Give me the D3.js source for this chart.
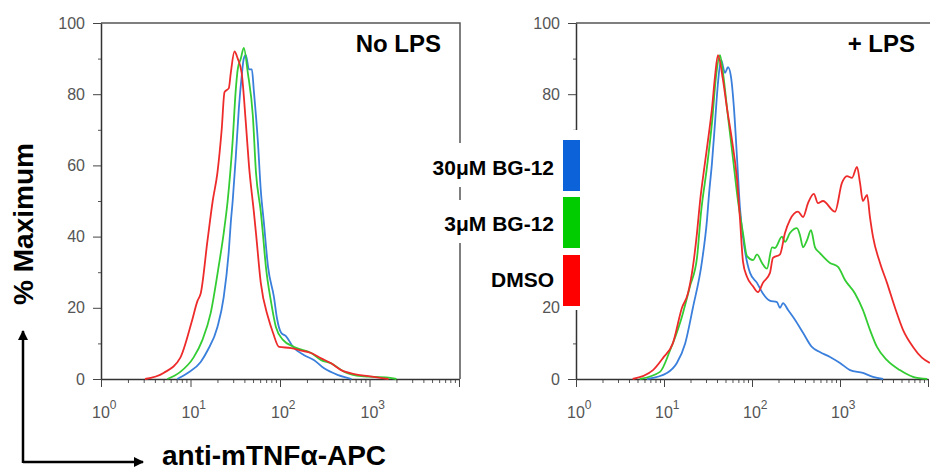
<!DOCTYPE html>
<html>
<head>
<meta charset="utf-8">
<script src="https://cdn.jsdelivr.net/npm/d3@7"></script>
<style>
  body { margin: 0; background: #fff; }
  svg { display: block; font-family: Arial, "Liberation Sans", sans-serif; }
</style>
</head>
<body>
<div class="chart"></div>
<script>
// flow histograms, % of max vs anti-mTNFa-APC intensity (log)
var panelTitles = ['No LPS', '+ LPS'];
var legendNames = ['30μM BG-12', '3μM BG-12', 'DMSO'];
var yTicks = [0, 20, 40, 60, 80, 100];
var yMinor = [10, 30, 50, 70, 90];
var xDecades = [1, 10, 100, 1000, 10000];
var xTickExps = ['0', '1', '2', '3'];

// [intensity, % max]
var noLpsDmso = [[3.1,0],[5,1.7],[7.7,6],[10.3,16],[12,22],[13,24],[15.5,39],[17.7,50],[20,58],[22.3,70],[24,80.6],[26.8,81.7],[28.2,86],[31,92],[33.7,90],[37.3,86],[41.5,72],[45,60],[51,47],[53.9,41],[61,27],[73.5,17.4],[83.5,13],[97.6,9],[133,8.7],[172,8],[223,7.3],[288,5.8],[373,4.4],[483,2.5],[675,1.4],[975,0.8],[1630,0]];
var noLps3uM = [[5.5,0],[7.7,2],[10.8,6],[13.6,11],[16.8,18.5],[20.6,31.5],[23.5,41],[26,50],[29.6,67],[32,81],[33.7,87],[36.5,90],[39.4,93],[43.7,86],[49.7,74],[53.9,58],[61,47],[64.3,41],[69.6,31.5],[79,22],[90,14.6],[108,11],[144,9],[223,7.3],[288,5.3],[373,4.4],[525,2],[810,0.8],[1630,0.4],[2000,0]];
var noLps30uM = [[7.1,0],[9.3,1.7],[13,4.8],[15.5,8],[20,14.6],[23.5,23],[26.8,36],[28.2,44],[29.6,50],[32,62],[34.7,76],[37.3,85],[39.4,90],[41.5,91],[45,87],[48.5,87],[51,81],[56.5,67],[61,53],[66,44],[73.5,31.5],[85.6,23],[92.6,17],[103,13],[117,12],[140,9],[186,6.7],[241,5.3],[311,3],[448,1.1],[630,0]];

var lpsDmso = [[4.4,0],[7.5,2.5],[9.8,6],[12.6,10],[16,20],[18.7,24],[21.3,31.5],[23.7,41],[25.7,50],[29.2,60.7],[31.6,67],[35.1,76],[38,85],[41,91],[46.8,84],[52,76],[59.3,67],[67.6,56],[73,45],[79,33],[87.7,28.7],[103,26],[117,24.4],[133,27],[160,29.8],[173,34],[208,35],[237,41],[270,44.7],[333,47],[380,45.5],[433,49.4],[504,52],[562,49.4],[641,50],[877,47],[1050,55],[1200,57],[1370,56.5],[1560,59.6],[1690,55],[1820,50],[2030,51.7],[2190,45.5],[2370,40],[2850,32.6],[3420,27],[4220,20],[5200,13.8],[6760,9],[8520,6],[10500,4.5]];
var lps3uM = [[5.3,0],[9,2],[11.7,8],[15.2,15.7],[16.4,18.5],[19.7,26],[23.7,34],[26.3,46.6],[30.8,59.6],[35.1,72],[39,85],[43.3,91],[46.8,86],[53.4,73.6],[60.8,62],[69.3,50],[79,41],[87.7,34.5],[103,33.4],[114,35],[130,32.6],[148,31],[169,37],[182,36.8],[219,40],[237,38.5],[270,41],[324,42.4],[351,40.4],[380,37],[422,39],[468,41.8],[520,37],[590,35.4],[770,32.6],[950,31.5],[1140,27.8],[1480,24],[1820,19.4],[2190,13.8],[2630,9],[3420,5.3],[4790,2.5],[6760,0.6],[9770,0]];
var lps30uM = [[6.4,0],[10.8,1.7],[14,4.5],[17.4,10],[21.3,20],[27,33],[30.8,44.7],[32.5,52],[35.1,60.7],[38,72],[41,83],[44.5,89.6],[49.3,86],[53.4,87.6],[57.6,85],[62.4,76],[67.6,62],[73,48],[83.2,36],[95,29.8],[114,27],[133,24],[159,22],[192,21.6],[208,20],[225,21.3],[257,19.4],[309,16.6],[380,13],[479,9],[590,7.6],[770,6.2],[1000,4.5],[1300,2.5],[1820,1.7],[2370,0.6],[3090,0]];

var lineColors = ['#3a7fdc', '#33cc33', '#ee2b2b'];   // 30uM, 3uM, DMSO
var barColors = ['#0c62d8', '#00cc00', '#ff0000'];

var W = 930, H = 472;
var svg = d3.select('.chart')
  .append('svg')
    .attr('width', W)
    .attr('height', H);

var y = d3.scaleLinear().domain([0, 100]).range([379, 23]);

// right panel: 40 and 60 labels sit under the pasted legend
var panels = [
  { title: panelTitles[0], x0: 101, x1: 459, frameR: 460, hidden: [], series: [noLps30uM, noLps3uM, noLpsDmso] },
  { title: panelTitles[1], x0: 576, x1: 928, frameR: 960, hidden: [40, 60], series: [lps30uM, lps3uM, lpsDmso] }
];

var minorX = [];
for (var d = 1; d < 10000; d *= 10) {
  for (var k = 2; k <= 9; k++) minorX.push(d * k);
}

panels.forEach(function(p, i) {
  var x = d3.scaleLog().domain([1, 10000]).range([p.x0, p.x1]);
  var g = svg.append('g');

  // frame (top + right)
  g.append('path')
    .attr('d', `M${p.x0},${y(100)}H${p.frameR}V${y(0)}`)
    .attr('fill', 'none')
    .attr('stroke', '#555')
    .attr('stroke-width', 1.5);

  // y axis
  g.append('g')
    .attr('transform', `translate(${p.x0},0)`)
    .call(d3.axisLeft(y).tickValues(yMinor).tickSize(3).tickFormat(''))
    .call(s => s.select('.domain').remove())
    .selectAll('line').attr('stroke', '#555');
  var ya = g.append('g')
    .attr('transform', `translate(${p.x0},0)`)
    .call(d3.axisLeft(y).tickValues(yTicks).tickSize(8).tickPadding(8).tickSizeOuter(0)
      .tickFormat(v => p.hidden.indexOf(v) >= 0 ? '' : v));
  ya.select('.domain').attr('stroke', '#333').attr('stroke-width', 1.5);
  ya.selectAll('line').attr('stroke', '#444');
  ya.selectAll('text')
    .attr('font-size', 16)
    .attr('font-family', 'Arial, "Liberation Sans", sans-serif')
    .attr('fill', '#555');

  // x axis
  var xg = g.append('g').attr('transform', `translate(0,${y(0)})`);
  xg.append('g')
    .call(d3.axisBottom(x).tickValues(minorX).tickSize(4).tickFormat(''))
    .call(s => s.select('.domain').remove())
    .selectAll('line').attr('stroke', '#555');
  var xa = xg.append('g')
    .call(d3.axisBottom(x).tickValues(xDecades).tickSize(8).tickFormat('').tickSizeOuter(0));
  xa.select('.domain').attr('stroke', '#333').attr('stroke-width', 1.5);
  xa.selectAll('line').attr('stroke', '#444');

  // 10^n labels
  xTickExps.forEach(function(e) {
    var t = g.append('text')
      .attr('x', x(Math.pow(10, +e)) - 9)
      .attr('y', 418)
      .attr('fill', '#555')
      .attr('font-size', 16);
    t.append('tspan').text('10');
    t.append('tspan').attr('dy', -9).attr('font-size', 12).text(e);
  });

  // curves
  var clipId = 'clip' + i;
  svg.append('clipPath').attr('id', clipId)
    .append('rect')
      .attr('x', p.x0).attr('y', y(100))
      .attr('width', p.x1 - p.x0 + 10).attr('height', y(0) - y(100) + 1);

  var line = d3.line()
    .x(d => x(d[0]))
    .y(d => y(d[1]))
    .curve(d3.curveMonotoneX);

  g.append('g').attr('clip-path', `url(#${clipId})`)
    .selectAll('path')
    .data(p.series)
    .join('path')
      .attr('d', line)
      .attr('fill', 'none')
      .attr('stroke', (d, j) => lineColors[j])
      .attr('stroke-width', 1.8)
      .attr('stroke-linejoin', 'round');

  g.append('text')
    .attr('x', i === 0 ? 441 : 915)
    .attr('y', 52)
    .attr('text-anchor', 'end')
    .attr('font-size', 24)
    .attr('font-weight', 'bold')
    .text(p.title);
});

// legend pasted over the gap between panels
var legend = svg.append('g');
var rowBoxes = [[418, 143, 145, 44], [440, 200, 123, 43], [485, 255, 78, 45]];
legend.selectAll('rect.bg')
  .data(rowBoxes)
  .join('rect')
    .attr('class', 'bg')
    .attr('x', d => d[0]).attr('y', d => d[1])
    .attr('width', d => d[2]).attr('height', d => d[3])
    .attr('fill', '#fff');
legend.append('rect')
  .attr('x', 562).attr('y', 130).attr('width', 20).attr('height', 180)
  .attr('fill', '#fff');

var barY = [140, 197, 255];
legend.selectAll('rect.bar')
  .data(legendNames)
  .join('rect')
    .attr('class', 'bar')
    .attr('x', 563).attr('y', (d, j) => barY[j])
    .attr('width', 17).attr('height', 51)
    .attr('fill', (d, j) => barColors[j]);

var labelY = [175, 231, 287];
legend.selectAll('text')
  .data(legendNames)
  .join('text')
    .attr('x', 554)
    .attr('y', (d, j) => labelY[j])
    .attr('text-anchor', 'end')
    .attr('font-size', 21)
    .attr('font-weight', 'bold')
    .text(d => d);

// axis titles with arrows
svg.append('defs').append('marker')
  .attr('id', 'arrow')
  .attr('viewBox', '0 0 10 10')
  .attr('refX', 9).attr('refY', 5)
  .attr('markerWidth', 4).attr('markerHeight', 4)
  .attr('markerUnits', 'strokeWidth')
  .attr('orient', 'auto')
  .append('path')
    .attr('d', 'M0,0L10,5L0,10Z')
    .attr('fill', '#000');

svg.append('path')
  .attr('d', 'M23,462H143')
  .attr('fill', 'none')
  .attr('stroke', '#000')
  .attr('stroke-width', 2.5)
  .attr('marker-end', 'url(#arrow)');
svg.append('path')
  .attr('d', 'M23,463V331')
  .attr('fill', 'none')
  .attr('stroke', '#000')
  .attr('stroke-width', 2.5)
  .attr('marker-end', 'url(#arrow)');

svg.append('text')
  .attr('transform', 'translate(33,224) rotate(-90)')
  .attr('text-anchor', 'middle')
  .attr('font-size', 28)
  .attr('font-weight', 'bold')
  .text('% Maximum');

svg.append('text')
  .attr('x', 162)
  .attr('y', 465)
  .attr('font-size', 28)
  .attr('font-weight', 'bold')
  .text('anti-mTNFα-APC');
</script>
</body>
</html>
